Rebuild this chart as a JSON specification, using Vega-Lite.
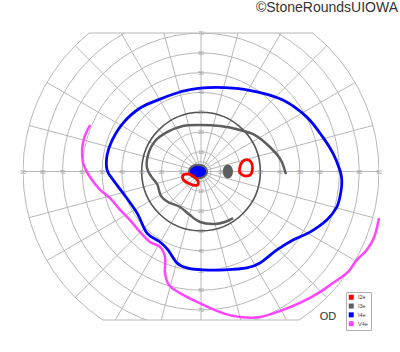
{
  "$schema": "https://vega.github.io/schema/vega-lite/v6.json",
  "autosize": "none",
  "width": 356,
  "height": 287,
  "padding": {"left": 23, "top": 33, "right": 21, "bottom": 32},
  "background": "white",
  "config": {"view": {"stroke": null}, "font": "Liberation Sans"},
  "datasets": {
    "rings": [{"r": 5}, {"r": 10}, {"r": 20}, {"r": 40}, {"r": 50}, {"r": 60}, {"r": 70}, {"r": 80}, {"r": 90}],
    "meridians": [
      {"x1": -90, "y1": 0, "x2": 90, "y2": 0},
      {"x1": -86.93, "y1": -23.29, "x2": 86.93, "y2": 23.29},
      {"x1": -77.94, "y1": -45, "x2": 77.94, "y2": 45},
      {"x1": -63.64, "y1": -63.64, "x2": 63.64, "y2": 63.64},
      {"x1": -45, "y1": -77.94, "x2": 45, "y2": 77.94},
      {"x1": -23.29, "y1": -86.93, "x2": 23.29, "y2": 86.93},
      {"x1": 0, "y1": -90, "x2": 0, "y2": 90},
      {"x1": 23.29, "y1": -86.93, "x2": -23.29, "y2": 86.93},
      {"x1": 45, "y1": -77.94, "x2": -45, "y2": 77.94},
      {"x1": 63.64, "y1": -63.64, "x2": -63.64, "y2": 63.64},
      {"x1": 77.94, "y1": -45, "x2": -77.94, "y2": 45},
      {"x1": 86.93, "y1": -23.29, "x2": -86.93, "y2": 23.29}
    ],
    "chords": [
      {"x1": -56.57, "x2": 56.57, "y": 70},
      {"x1": -49.75, "x2": 49.75, "y": -75}
    ],
    "labels": [
      {"x": -90, "y": 0, "t": "90"}, {"x": -80, "y": 0, "t": "80"}, {"x": -70, "y": 0, "t": "70"}, {"x": -60, "y": 0, "t": "60"}, {"x": -50, "y": 0, "t": "50"}, {"x": -40, "y": 0, "t": "40"}, {"x": -30, "y": 0, "t": "30"}, {"x": -20, "y": 0, "t": "20"}, {"x": -10, "y": 0, "t": "10"},
      {"x": 10, "y": 0, "t": "10"}, {"x": 20, "y": 0, "t": "20"}, {"x": 30, "y": 0, "t": "30"}, {"x": 40, "y": 0, "t": "40"}, {"x": 50, "y": 0, "t": "50"}, {"x": 60, "y": 0, "t": "60"}, {"x": 70, "y": 0, "t": "70"}, {"x": 80, "y": 0, "t": "80"}, {"x": 90, "y": 0, "t": "90"},
      {"x": 0, "y": 10, "t": "10"}, {"x": 0, "y": 20, "t": "20"}, {"x": 0, "y": 30, "t": "30"}, {"x": 0, "y": 40, "t": "40"}, {"x": 0, "y": 50, "t": "50"}, {"x": 0, "y": 60, "t": "60"}, {"x": 0, "y": 70, "t": "70"},
      {"x": 0, "y": -10, "t": "10"}, {"x": 0, "y": -20, "t": "20"}, {"x": 0, "y": -30, "t": "30"}, {"x": 0, "y": -40, "t": "40"}, {"x": 0, "y": -50, "t": "50"}, {"x": 0, "y": -60, "t": "60"}, {"x": 0, "y": -70, "t": "70"}
    ],
    "closed": [
      {"s": "I4e", "p": "b", "i": 0, "x": -0.5, "y": 42.2},
      {"s": "I4e", "p": "b", "i": 1, "x": 16.2, "y": 42.2},
      {"s": "I4e", "p": "b", "i": 2, "x": 28.3, "y": 40.2},
      {"s": "I4e", "p": "b", "i": 3, "x": 41.4, "y": 36.1},
      {"s": "I4e", "p": "b", "i": 4, "x": 53.5, "y": 27.5},
      {"s": "I4e", "p": "b", "i": 5, "x": 61.6, "y": 17.4},
      {"s": "I4e", "p": "b", "i": 6, "x": 66.7, "y": 9.3},
      {"s": "I4e", "p": "b", "i": 7, "x": 70.2, "y": 0.8},
      {"s": "I4e", "p": "b", "i": 8, "x": 71.2, "y": -4.3},
      {"s": "I4e", "p": "b", "i": 9, "x": 70.7, "y": -10.4},
      {"s": "I4e", "p": "b", "i": 10, "x": 68.7, "y": -17.9},
      {"s": "I4e", "p": "b", "i": 11, "x": 63.6, "y": -24.5},
      {"s": "I4e", "p": "b", "i": 12, "x": 55.1, "y": -30.6},
      {"s": "I4e", "p": "b", "i": 13, "x": 46.5, "y": -34.6},
      {"s": "I4e", "p": "b", "i": 14, "x": 38.4, "y": -39.6},
      {"s": "I4e", "p": "b", "i": 15, "x": 29.8, "y": -46.2},
      {"s": "I4e", "p": "b", "i": 16, "x": 23.2, "y": -48.7},
      {"s": "I4e", "p": "b", "i": 17, "x": 12.1, "y": -49.7},
      {"s": "I4e", "p": "b", "i": 18, "x": 1.0, "y": -49.7},
      {"s": "I4e", "p": "b", "i": 19, "x": -7.1, "y": -48.7},
      {"s": "I4e", "p": "b", "i": 20, "x": -12.1, "y": -46.2},
      {"s": "I4e", "p": "b", "i": 21, "x": -16.7, "y": -39.6},
      {"s": "I4e", "p": "b", "i": 22, "x": -20.7, "y": -35.6},
      {"s": "I4e", "p": "b", "i": 23, "x": -27.3, "y": -31.1},
      {"s": "I4e", "p": "b", "i": 24, "x": -32.3, "y": -21.0},
      {"s": "I4e", "p": "b", "i": 25, "x": -39.4, "y": -10.9},
      {"s": "I4e", "p": "b", "i": 26, "x": -44.4, "y": -4.3},
      {"s": "I4e", "p": "b", "i": 27, "x": -47.5, "y": 0.8},
      {"s": "I4e", "p": "b", "i": 28, "x": -47.5, "y": 8.3},
      {"s": "I4e", "p": "b", "i": 29, "x": -44.9, "y": 15.9},
      {"s": "I4e", "p": "b", "i": 30, "x": -39.4, "y": 24.5},
      {"s": "I4e", "p": "b", "i": 31, "x": -30.8, "y": 32.1},
      {"s": "I4e", "p": "b", "i": 32, "x": -20.7, "y": 36.6},
      {"s": "I4e", "p": "b", "i": 33, "x": -10.6, "y": 40.2},
      {"s": "I2e", "p": "r1", "i": 0, "x": 21.0, "y": 5.05},
      {"s": "I2e", "p": "r1", "i": 1, "x": 23.2, "y": 6.06},
      {"s": "I2e", "p": "r1", "i": 2, "x": 25.3, "y": 4.8},
      {"s": "I2e", "p": "r1", "i": 3, "x": 26.0, "y": 2.0},
      {"s": "I2e", "p": "r1", "i": 4, "x": 25.3, "y": -1.26},
      {"s": "I2e", "p": "r1", "i": 5, "x": 22.7, "y": -2.27},
      {"s": "I2e", "p": "r1", "i": 6, "x": 20.2, "y": -1.26},
      {"s": "I2e", "p": "r1", "i": 7, "x": 19.4, "y": 0.5},
      {"s": "I2e", "p": "r1", "i": 8, "x": 19.9, "y": 3.0},
      {"s": "I2e", "p": "r2", "i": 0, "x": -9.3, "y": -2.3},
      {"s": "I2e", "p": "r2", "i": 1, "x": -7.6, "y": -1.2},
      {"s": "I2e", "p": "r2", "i": 2, "x": -5.05, "y": -1.6},
      {"s": "I2e", "p": "r2", "i": 3, "x": -2.5, "y": -3.4},
      {"s": "I2e", "p": "r2", "i": 4, "x": -1.4, "y": -5.2},
      {"s": "I2e", "p": "r2", "i": 5, "x": -1.8, "y": -6.8},
      {"s": "I2e", "p": "r2", "i": 6, "x": -4.0, "y": -6.8},
      {"s": "I2e", "p": "r2", "i": 7, "x": -6.6, "y": -5.8},
      {"s": "I2e", "p": "r2", "i": 8, "x": -8.8, "y": -4.3}
    ],
    "open": [
      {"s": "I3e", "p": "g", "i": 0, "x": 42.9, "y": -1.3},
      {"s": "I3e", "p": "g", "i": 1, "x": 40.4, "y": 5.8},
      {"s": "I3e", "p": "g", "i": 2, "x": 34.8, "y": 12.4},
      {"s": "I3e", "p": "g", "i": 3, "x": 27.3, "y": 18.4},
      {"s": "I3e", "p": "g", "i": 4, "x": 19.7, "y": 21.0},
      {"s": "I3e", "p": "g", "i": 5, "x": 9.6, "y": 23.0},
      {"s": "I3e", "p": "g", "i": 6, "x": -0.5, "y": 23.5},
      {"s": "I3e", "p": "g", "i": 7, "x": -9.1, "y": 23.0},
      {"s": "I3e", "p": "g", "i": 8, "x": -17.2, "y": 19.9},
      {"s": "I3e", "p": "g", "i": 9, "x": -23.2, "y": 15.4},
      {"s": "I3e", "p": "g", "i": 10, "x": -26.8, "y": 8.3},
      {"s": "I3e", "p": "g", "i": 11, "x": -27.3, "y": 1.8},
      {"s": "I3e", "p": "g", "i": 12, "x": -25.3, "y": -2.3},
      {"s": "I3e", "p": "g", "i": 13, "x": -22.2, "y": -6.3},
      {"s": "I3e", "p": "g", "i": 14, "x": -20.2, "y": -12.4},
      {"s": "I3e", "p": "g", "i": 15, "x": -16.7, "y": -15.4},
      {"s": "I3e", "p": "g", "i": 16, "x": -10.6, "y": -17.9},
      {"s": "I3e", "p": "g", "i": 17, "x": -5.6, "y": -22.0},
      {"s": "I3e", "p": "g", "i": 18, "x": -0.5, "y": -25.5},
      {"s": "I3e", "p": "g", "i": 19, "x": 7.1, "y": -26.5},
      {"s": "I3e", "p": "g", "i": 20, "x": 12.1, "y": -25.5},
      {"s": "I3e", "p": "g", "i": 21, "x": 16.2, "y": -23.5},
      {"s": "V4e", "p": "m", "i": 0, "x": -56.1, "y": 23.5},
      {"s": "V4e", "p": "m", "i": 1, "x": -59.1, "y": 16.9},
      {"s": "V4e", "p": "m", "i": 2, "x": -60.1, "y": 10.9},
      {"s": "V4e", "p": "m", "i": 3, "x": -59.6, "y": 4.3},
      {"s": "V4e", "p": "m", "i": 4, "x": -57.6, "y": -0.3},
      {"s": "V4e", "p": "m", "i": 5, "x": -55.1, "y": -4.3},
      {"s": "V4e", "p": "m", "i": 6, "x": -51.0, "y": -9.3},
      {"s": "V4e", "p": "m", "i": 7, "x": -46.0, "y": -13.4},
      {"s": "V4e", "p": "m", "i": 8, "x": -40.9, "y": -19.4},
      {"s": "V4e", "p": "m", "i": 9, "x": -35.9, "y": -24.5},
      {"s": "V4e", "p": "m", "i": 10, "x": -30.8, "y": -30.6},
      {"s": "V4e", "p": "m", "i": 11, "x": -25.8, "y": -35.6},
      {"s": "V4e", "p": "m", "i": 12, "x": -20.7, "y": -38.1},
      {"s": "V4e", "p": "m", "i": 13, "x": -18.2, "y": -43.2},
      {"s": "V4e", "p": "m", "i": 14, "x": -18.2, "y": -51.3},
      {"s": "V4e", "p": "m", "i": 15, "x": -16.2, "y": -57.3},
      {"s": "V4e", "p": "m", "i": 16, "x": -10.6, "y": -61.4},
      {"s": "V4e", "p": "m", "i": 17, "x": -2.0, "y": -65.9},
      {"s": "V4e", "p": "m", "i": 18, "x": 4.5, "y": -68.9},
      {"s": "V4e", "p": "m", "i": 19, "x": 12.1, "y": -71.9},
      {"s": "V4e", "p": "m", "i": 20, "x": 19.7, "y": -73.5},
      {"s": "V4e", "p": "m", "i": 21, "x": 29.8, "y": -73.5},
      {"s": "V4e", "p": "m", "i": 22, "x": 39.9, "y": -70.5},
      {"s": "V4e", "p": "m", "i": 23, "x": 50.0, "y": -66.4},
      {"s": "V4e", "p": "m", "i": 24, "x": 60.1, "y": -60.9},
      {"s": "V4e", "p": "m", "i": 25, "x": 66.7, "y": -56.3},
      {"s": "V4e", "p": "m", "i": 26, "x": 74.2, "y": -50.8},
      {"s": "V4e", "p": "m", "i": 27, "x": 78.8, "y": -44.7},
      {"s": "V4e", "p": "m", "i": 28, "x": 83.8, "y": -39.6},
      {"s": "V4e", "p": "m", "i": 29, "x": 87.4, "y": -33.6},
      {"s": "V4e", "p": "m", "i": 30, "x": 90.0, "y": -23.5}
    ],
    "centerGray": [{"s": "I3e", "x": -1.5, "y": 0}],
    "centerBlue": [{"s": "I4e", "x": -1.5, "y": 0}],
    "blindSpot": [{"s": "I3e", "x": 13.6, "y": 0}],
    "texts": [
      {"x": 64.2, "y": -73.6, "t": "OD", "k": "eye"},
      {"x": 99.6, "y": 82.7, "t": "©StoneRoundsUIOWA", "k": "copy"}
    ]
  },
  "layer": [
    {
      "data": {"name": "rings"},
      "mark": {"type": "point", "shape": "circle", "filled": false, "stroke": "#b8b8b8", "strokeWidth": 1, "opacity": 1, "clip": true},
      "encoding": {
        "x": {"datum": 0, "type": "quantitative", "scale": {"domain": [-90, 90], "nice": false, "zero": false}, "axis": null},
        "y": {"datum": 0, "type": "quantitative", "scale": {"domain": [-75, 70], "nice": false, "zero": false}, "axis": null},
        "size": {"field": "r", "type": "quantitative", "scale": {"type": "pow", "exponent": 2, "domain": [0, 90], "range": [0, 126736], "zero": true}, "legend": null}
      }
    },
    {
      "data": {"name": "meridians"},
      "mark": {"type": "rule", "stroke": "#b8b8b8", "strokeWidth": 1, "clip": true},
      "encoding": {
        "x": {"field": "x1", "type": "quantitative"},
        "y": {"field": "y1", "type": "quantitative"},
        "x2": {"field": "x2"},
        "y2": {"field": "y2"}
      }
    },
    {
      "data": {"name": "chords"},
      "mark": {"type": "rule", "stroke": "#b8b8b8", "strokeWidth": 1},
      "encoding": {
        "x": {"field": "x1", "type": "quantitative"},
        "x2": {"field": "x2"},
        "y": {"field": "y", "type": "quantitative"}
      }
    },
    {
      "data": {"name": "rings"},
      "transform": [{"filter": "datum.r == 5"}],
      "mark": {"type": "point", "shape": "circle", "filled": false, "stroke": "#555555", "strokeWidth": 1.6, "opacity": 1},
      "encoding": {
        "x": {"datum": 0, "type": "quantitative"},
        "y": {"datum": 0, "type": "quantitative"},
        "size": {"datum": 30, "type": "quantitative"}
      }
    },
    {
      "data": {"name": "labels"},
      "mark": {"type": "text", "fontSize": 5, "color": "#999999", "align": "center", "baseline": "middle"},
      "encoding": {
        "x": {"field": "x", "type": "quantitative"},
        "y": {"field": "y", "type": "quantitative"},
        "text": {"field": "t"}
      }
    },
    {
      "data": {"name": "centerGray"},
      "mark": {"type": "point", "filled": true, "opacity": 1, "shape": "M-1,0A1,0.78,0,1,1,1,0A1,0.78,0,1,1,-1,0Z", "size": 400},
      "encoding": {
        "x": {"field": "x", "type": "quantitative"},
        "y": {"field": "y", "type": "quantitative"},
        "color": {"field": "s", "type": "nominal"}
      }
    },
    {
      "data": {"name": "centerBlue"},
      "mark": {"type": "point", "filled": true, "opacity": 1, "shape": "M-1,0A1,0.7,0,1,1,1,0A1,0.7,0,1,1,-1,0Z", "size": 256},
      "encoding": {
        "x": {"field": "x", "type": "quantitative"},
        "y": {"field": "y", "type": "quantitative"},
        "color": {"field": "s", "type": "nominal"}
      }
    },
    {
      "data": {"name": "blindSpot"},
      "mark": {"type": "point", "filled": true, "opacity": 1, "shape": "M0,-1A0.72,1,0,1,1,0,1A0.72,1,0,1,1,0,-1Z", "size": 196},
      "encoding": {
        "x": {"field": "x", "type": "quantitative"},
        "y": {"field": "y", "type": "quantitative"},
        "color": {"field": "s", "type": "nominal"}
      }
    },
    {
      "data": {"name": "closed"},
      "mark": {"type": "line", "interpolate": "cardinal-closed", "strokeWidth": 2.8},
      "encoding": {
        "x": {"field": "x", "type": "quantitative"},
        "y": {"field": "y", "type": "quantitative"},
        "detail": {"field": "p"},
        "order": {"field": "i", "type": "quantitative"},
        "color": {
          "field": "s", "type": "nominal",
          "scale": {"domain": ["I2e", "I3e", "I4e", "V4e"], "range": ["#ff0000", "#5e5e5e", "#0000ff", "#ff44ff"]},
          "legend": {
            "title": null, "orient": "none", "legendX": 323, "legendY": 259,
            "symbolType": "square", "symbolSize": 25, "symbolStrokeWidth": 0,
            "labelFontSize": 5.5, "labelFont": "Liberation Sans", "labelColor": "#444444", "labelOffset": 4,
            "padding": 2.5, "rowPadding": 1.8, "strokeColor": "#b0b0b0", "fillColor": "white",
            "encode": {"symbols": {"update": {"fill": {"scale": "color", "field": "value"}, "opacity": {"value": 1}}}}
          }
        }
      }
    },
    {
      "data": {"name": "open"},
      "mark": {"type": "line", "interpolate": "catmull-rom", "strokeWidth": 2.5, "clip": false},
      "encoding": {
        "x": {"field": "x", "type": "quantitative"},
        "y": {"field": "y", "type": "quantitative"},
        "detail": {"field": "p"},
        "order": {"field": "i", "type": "quantitative"},
        "color": {"field": "s", "type": "nominal"}
      }
    },
    {
      "data": {"name": "texts"},
      "transform": [{"filter": "datum.k == 'eye'"}],
      "mark": {"type": "text", "fontSize": 11, "color": "#333333", "align": "center", "baseline": "middle"},
      "encoding": {
        "x": {"field": "x", "type": "quantitative"},
        "y": {"field": "y", "type": "quantitative"},
        "text": {"field": "t"}
      }
    },
    {
      "data": {"name": "texts"},
      "transform": [{"filter": "datum.k == 'copy'"}],
      "mark": {"type": "text", "fontSize": 14, "color": "#333333", "align": "right", "baseline": "middle", "clip": false},
      "encoding": {
        "x": {"field": "x", "type": "quantitative"},
        "y": {"field": "y", "type": "quantitative"},
        "text": {"field": "t"}
      }
    }
  ]
}
